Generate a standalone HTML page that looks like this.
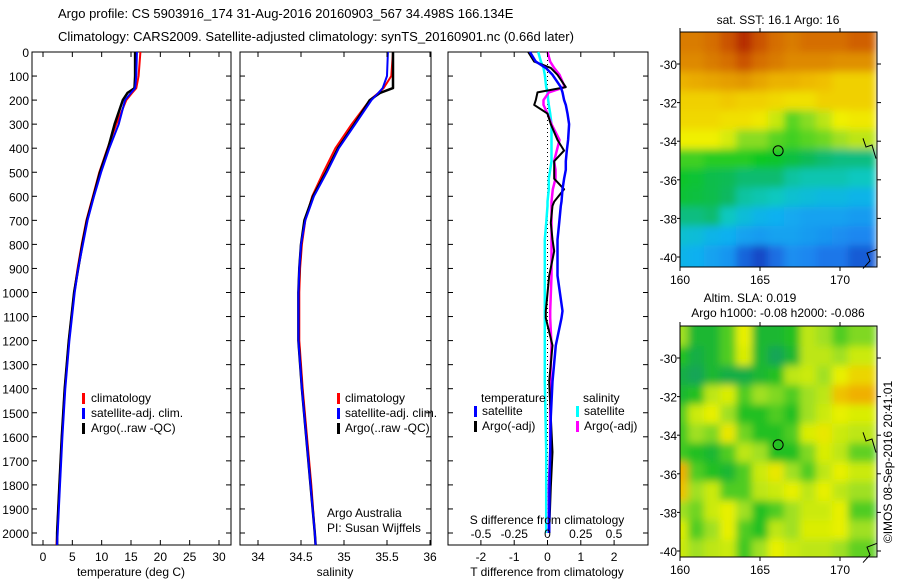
<!DOCTYPE html>
<html><head><meta charset="utf-8">
<style>
html,body{margin:0;padding:0;background:#fff;}
svg{display:block;font-family:"Liberation Sans",sans-serif;}
</style></head>
<body>
<svg id="c" width="900" height="580" viewBox="0 0 900 580" xmlns="http://www.w3.org/2000/svg">
<defs>
<filter id="blur" x="-5%" y="-5%" width="110%" height="110%"><feGaussianBlur stdDeviation="4"/></filter>
<clipPath id="clipA"><rect x="680" y="32" width="197" height="235"/></clipPath>
<clipPath id="clipB"><rect x="680" y="326" width="197" height="231"/></clipPath>
</defs>
<text x="58" y="18" font-size="13">Argo profile: CS 5903916_174 31-Aug-2016 20160903_567 34.498S 166.134E</text>
<text x="58" y="41" font-size="13">Climatology: CARS2009. Satellite-adjusted climatology: synTS_20160901.nc (0.66d later)</text>
</svg>
<script>
// ---- data ----
const depths = [0,100,150,170,200,300,400,500,600,700,800,900,1000,1200,1400,1600,1800,2000,2050];
const tClim = [16.6,16.3,15.9,15.2,14.2,12.5,11.0,9.6,8.5,7.4,6.6,5.9,5.3,4.4,3.7,3.2,2.8,2.4,2.3];
const tSat  = [16.0,15.9,15.7,15.0,14.0,12.9,11.3,9.9,8.7,7.6,6.8,6.0,5.4,4.5,3.8,3.3,2.9,2.5,2.4];
const tArgo = [15.7,15.7,15.6,14.4,13.6,12.2,11.1,9.7,8.6,7.5,6.7,6.0,5.3,4.4,3.7,3.2,2.8,2.4,2.4];
const sClim = [35.57,35.55,35.46,35.40,35.30,35.09,34.90,34.76,34.63,34.55,34.51,34.49,34.48,34.48,34.52,34.57,34.62,34.66,34.67];
const sSat  = [35.51,35.50,35.45,35.40,35.32,35.13,34.94,34.80,34.65,34.55,34.50,34.48,34.47,34.47,34.51,34.56,34.61,34.66,34.67];
const sArgo = [35.57,35.57,35.57,35.42,35.30,35.12,34.93,34.79,34.64,34.54,34.50,34.48,34.47,34.47,34.51,34.56,34.61,34.66,34.67];
const dDepth = [0,40,66,95,146,168,200,220,256,300,366,410,454,490,527,571,622,640,710,780,828,930,1077,1106,1220,1370,1516,1663,1810,2000];
const dTSat  = [-0.53,-0.35,-0.05,0.15,0.4,0.45,0.5,0.55,0.6,0.65,0.62,0.58,0.55,0.55,0.5,0.45,0.42,0.4,0.35,0.3,0.3,0.3,0.45,0.42,0.25,0.15,0.1,0.08,0.06,0.05];
const dTArgo = [-0.58,-0.4,0.1,0.3,0.55,-0.3,-0.35,-0.4,0.0,0.1,0.3,0.5,0.2,0.2,0.2,0.5,0.2,0.15,0.1,0.15,0.2,0.05,-0.05,-0.05,0.15,0.05,0.1,0.15,0.1,0.05];
const dSSat  = [-0.07,-0.05,-0.03,-0.02,-0.01,0,0.005,0.01,0.02,0.03,0.03,0.03,0.03,0.02,0.01,0.01,0,0,-0.01,-0.02,-0.02,-0.02,-0.02,-0.02,-0.02,-0.02,-0.015,-0.01,-0.01,-0.01];
const dSArgo = [0,0.02,0.05,0.09,0.13,0.01,-0.03,-0.03,0.0,0.03,0.09,0.07,0.05,0.06,0.06,0.04,0.03,0.03,0.03,0.03,0.03,0.03,0.02,0.02,0.03,0.02,0.02,0.02,0.01,0.01];
const depthTicks = [0,100,200,300,400,500,600,700,800,900,1000,1100,1200,1300,1400,1500,1600,1700,1800,1900,2000];
const tTicks = [0,5,10,15,20,25,30];
const sTicks = [34,34.5,35,35.5,36];
const tdTicks = [-2,-1,0,1,2];
const sdTicks = [-0.5,-0.25,0,0.25,0.5];
const sdTickLabels = ["-0.5","-0.25","0","0.25","0.5"];
const lonTicks = [160,165,170];
const latTicks = [-30,-32,-34,-36,-38,-40];
const gridLons = [160,161,162,163,164,165,166,167,168,169,170,171];
const gridLats = [-28.9,-29.9,-30.9,-31.9,-32.9,-33.9,-34.9,-35.9,-36.9,-37.9,-38.9,-39.9];
const sst = [
[18.8,18.8,19,19.3,19.6,19.3,19,18.8,19,19,19,19.2],
[18.6,18.6,18.8,19,19.3,19,18.8,18.6,18.6,18.6,18.5,18.5],
[18,18.1,18.2,18.3,18.4,18.2,18,18,17.9,17.8,17.6,17.6],
[17.6,17.6,17.6,17.7,17.6,17.6,17.5,17.4,17.4,17.6,17.6,17.6],
[17.5,17.5,17.5,17.4,17.4,17.3,16.9,16.3,16.5,16.8,17.2,17.3],
[17.2,17.2,17.2,17,16.5,16.5,16.3,16.2,16.3,16.4,16.6,16.8],
[16.2,16.2,16.1,16.1,16.1,16,15.9,15.7,15.5,15.3,15.2,15.2],
[15.9,15.8,15.6,15.5,15.3,15.3,15.3,15,14.9,14.9,14.9,14.8],
[15.8,15.7,15.6,15.4,15,14.9,14.8,14.6,14.5,14.4,14.4,14.3],
[15.2,15.2,15.3,14.8,14.5,14.3,14.2,14.1,14,14,14,13.9],
[14.6,14.5,14.3,14.2,14,13.9,14,14,13.9,13.8,13.7,13.6],
[14.3,14.2,14,13.8,13.2,12.9,13.3,13.7,13.6,13.4,13.4,13.1]];
const sla = [
[0,-0.1,-0.1,-0.05,0.05,-0.1,-0.1,-0.08,0.02,0,-0.05,-0.02],
[-0.08,-0.12,-0.1,-0.05,0.04,-0.1,-0.14,-0.1,0.02,0.02,0,0.03],
[-0.12,-0.14,-0.1,-0.12,-0.12,-0.1,-0.08,0.02,0.03,0,0.05,0.08],
[-0.1,-0.08,0.02,0.04,-0.05,0,-0.02,-0.05,0,0.02,0.1,0.12],
[-0.05,0.03,0.05,0,-0.08,-0.08,-0.05,-0.08,0,0.03,0.05,0.04],
[-0.06,0,-0.02,0.06,-0.03,-0.08,-0.08,-0.05,0.04,0.06,0.03,0.02],
[-0.06,-0.08,-0.1,-0.05,0.02,0,-0.08,-0.08,-0.02,0.04,0.02,-0.04],
[0.12,-0.05,-0.08,-0.1,-0.05,0.03,0.06,0,-0.05,0.02,0.05,0.03],
[0.1,0,0.03,-0.05,-0.05,0.02,0.03,0.05,0.02,0.05,0.02,0],
[0,-0.03,0.03,0.05,0,-0.08,-0.05,0,0.03,0.03,0.05,-0.05],
[0.04,-0.05,0,0.05,-0.05,-0.08,0.02,0,0.04,0.04,0.05,0],
[0.03,0,0.02,0.03,-0.06,0,0.05,0.03,0.02,0.02,0,-0.04]];
const argoLon = 166.134, argoLat = -34.498;

// ---- helpers ----
const svg = document.getElementById('c');
const NS = 'http://www.w3.org/2000/svg';
function el(tag, attrs, parent){const e=document.createElementNS(NS,tag);for(const k in attrs)e.setAttribute(k,attrs[k]);(parent||svg).appendChild(e);return e;}
function txt(x,y,s,anchor,size){const t=el('text',{x:x,y:y,'font-size':size||12,'text-anchor':anchor||'start'});t.textContent=s;return t;}
function lin(d0,d1,r0,r1){return v=>r0+(v-d0)*(r1-r0)/(d1-d0);}

const PT=52, PB=545;
const yD = lin(0,2000,52,533);

function panel(x0,x1,name){
  const r=el('rect',{x:x0,y:PT,width:x1-x0,height:PB-PT,fill:'#fff',stroke:'#000','stroke-width':1});
  
  
  depthTicks.forEach(d=>{
    el('line',{x1:x0,x2:x0+5,y1:yD(d),y2:yD(d),stroke:'#000'});
    el('line',{x1:x1-5,x2:x1,y1:yD(d),y2:yD(d),stroke:'#000'});
  });
}
function series(vals,xs,ys,color,w,name){
  const pts=vals.map((v,i)=>xs(v).toFixed(1)+','+ys[i].toFixed(1)).join(' ');
  const p=el('polyline',{points:pts,fill:'none',stroke:color,'stroke-width':w,'stroke-linejoin':'round'});
  
  
}
function legendMark(x,y,color){el('rect',{x:x,y:y-9,width:3,height:11,fill:color});}

// panel 1 temperature
const xT = lin(0,30,43,219);
panel(32,231,'temperature-panel');
const dy = depths.map(yD);
series(tClim,xT,dy,'#f00',2,'temp-climatology-line');
series(tArgo,xT,dy,'#000',2.5,'temp-argo-line');
series(tSat,xT,dy,'#00f',2,'temp-satellite-line');
depthTicks.forEach(d=>{const t=txt(29,yD(d)+5,String(d),'end');});
tTicks.forEach(v=>{el('line',{x1:xT(v),x2:xT(v),y1:PB,y2:PB-5,stroke:'#000'});el('line',{x1:xT(v),x2:xT(v),y1:PT,y2:PT+5,stroke:'#000'});txt(xT(v),561,String(v),'middle');});
txt(131,576,'temperature (deg C)','middle');
[['climatology','#f00'],['satellite-adj. clim.','#00f'],['Argo(..raw -QC)','#000']].forEach((l,i)=>{
  legendMark(82,402+i*15,l[1]);const t=txt(91,402+i*15,l[0]);
  });

// panel 2 salinity
const xS = lin(34,36,258,430);
panel(240,431,'salinity-panel');
series(sClim,xS,dy,'#f00',2,'sal-climatology-line');
series(sArgo,xS,dy,'#000',2.5,'sal-argo-line');
series(sSat,xS,dy,'#00f',2,'sal-satellite-line');
sTicks.forEach(v=>{el('line',{x1:xS(v),x2:xS(v),y1:PB,y2:PB-5,stroke:'#000'});el('line',{x1:xS(v),x2:xS(v),y1:PT,y2:PT+5,stroke:'#000'});txt(xS(v),561,String(v),'middle');});
txt(335,576,'salinity','middle');
[['climatology','#f00'],['satellite-adj. clim.','#00f'],['Argo(..raw -QC)','#000']].forEach((l,i)=>{
  legendMark(337,402+i*15,l[1]);const t=txt(345,402+i*15,l[0]);
  });
txt(327,517,'Argo Australia');
txt(327,532,'PI: Susan Wijffels');

// panel 3 differences
const xTD = lin(0,1,547.5,580.8);
const xSD = lin(0,0.5,547.5,614);
panel(448,648,'difference-panel');
el('line',{x1:547.5,x2:547.5,y1:yD(0),y2:yD(2000),stroke:'#000','stroke-dasharray':'1,3'});
const ddy = dDepth.map(yD);
series(dSSat,xSD,ddy,'#0ff',2.5,'sal-diff-satellite-line');
series(dSArgo,xSD,ddy,'#f0f',2.5,'sal-diff-argo-line');
series(dTArgo,xTD,ddy,'#000',2,'temp-diff-argo-line');
series(dTSat,xTD,ddy,'#00f',2.5,'temp-diff-satellite-line');
tdTicks.forEach(v=>{el('line',{x1:xTD(v),x2:xTD(v),y1:PB,y2:PB-5,stroke:'#000'});el('line',{x1:xTD(v),x2:xTD(v),y1:PT,y2:PT+5,stroke:'#000'});txt(xTD(v),561,String(v),'middle');});
sdTicks.forEach((v,i)=>txt(xSD(v),538,sdTickLabels[i],'middle'));
txt(547,524,'S difference from climatology','middle');
txt(547,576,'T difference from climatology','middle');
txt(481,402,'temperature');
txt(583,402,'salinity');
[['satellite','#00f',474],['Argo(-adj)','#000',474],['satellite','#0ff',576],['Argo(-adj)','#f0f',576]].forEach((l,i)=>{
  const y=415+(i%2)*15;legendMark(l[2],y,l[1]);const t=txt(l[2]+8,y,l[0]);
  });

// maps
function interp(stops,v){
  if(v<=stops[0][0])return stops[0][1];
  for(let i=1;i<stops.length;i++){if(v<=stops[i][0]){const a=stops[i-1],b=stops[i],f=(v-a[0])/(b[0]-a[0]);
    return [0,1,2].map(k=>Math.round(a[1][k]+(b[1][k]-a[1][k])*f));}}
  return stops[stops.length-1][1];
}
const sstStops=[[12.8,[16,64,192]],[13.5,[32,128,240]],[14.2,[16,176,240]],[14.8,[16,200,192]],[15.4,[16,184,96]],[16,[16,200,32]],[16.6,[160,224,32]],[17.2,[240,240,0]],[17.8,[240,192,0]],[18.5,[224,144,0]],[19.2,[208,96,0]],[19.7,[176,32,0]]];
const slaStops=[[-0.15,[16,160,96]],[-0.08,[32,192,32]],[0,[160,224,32]],[0.05,[232,240,0]],[0.12,[240,176,0]]];
function map(top,bottom,grid,stops,name,clip){
  const x0=680,x1=877;
  const xL=lin(160,170,680,840), yL=lin(-30,-40,top+32,top+225);
  const outer=el('g',{'clip-path':'url(#'+clip+')'});
  const g=el('g',{filter:'url(#blur)'},outer);
  
  
  grid.forEach((row,r)=>row.forEach((v,c)=>{
    const lo=gridLons[c]-0.5, la=gridLats[r]+0.5;
    let cx0=xL(lo), cx1=xL(lo+1), cy0=yL(la), cy1=yL(la-1);
    if(c===0)cx0-=12; if(c===row.length-1)cx1+=12; if(r===0)cy0-=12; if(r===grid.length-1)cy1+=12;
    const col=interp(stops,v);
    const cell=el('rect',{x:cx0,y:cy0,width:cx1-cx0+0.5,height:cy1-cy0+0.5,fill:'rgb('+col.join(',')+')'},g);
    
    
  }));
  el('rect',{x:x0,y:top,width:x1-x0,height:bottom-top,fill:'none',stroke:'#000'});
  el('circle',{cx:xL(argoLon),cy:yL(argoLat),r:5,fill:'none',stroke:'#000'});
  el('polyline',{points:`${x1-14},${yL(-33.85)} ${x1-11},${yL(-34.3)} ${x1-5},${yL(-34.2)} ${x1-1},${yL(-34.9)}`,fill:'none',stroke:'#000'});
  el('polyline',{points:`${x1},${yL(-39.6)} ${x1-10},${yL(-39.8)} ${x1-7},${yL(-40.2)} ${x1-14},${yL(-40.6)}`,fill:'none',stroke:'#000'});
  lonTicks.forEach(v=>{el('line',{x1:xL(v),x2:xL(v),y1:bottom,y2:bottom+4,stroke:'#000'});el('line',{x1:xL(v),x2:xL(v),y1:top,y2:top-4,stroke:'#000'});txt(xL(v),bottom+17,String(v),'middle');});
  latTicks.forEach(v=>{el('line',{x1:x1,x2:x1+4,y1:yL(v),y2:yL(v),stroke:'#000'});el('line',{x1:x0-3,x2:x0,y1:yL(v),y2:yL(v),stroke:'#000'});txt(x0-3,yL(v)+5,String(v),'end');});
}
map(32,267,sst,sstStops,'sst-map','clipA');
map(326,557,sla,slaStops,'sla-map','clipB');
txt(778,24,'sat. SST: 16.1 Argo: 16','middle',12);
txt(750,302,'Altim. SLA: 0.019','middle',12);
txt(778,317,'Argo h1000: -0.08 h2000: -0.086','middle',12);
const v=txt(0,0,'©IMOS 08-Sep-2016 20:41:01','middle',12);
v.setAttribute('transform','translate(892,462) rotate(-90)');


</script>
</body></html>
